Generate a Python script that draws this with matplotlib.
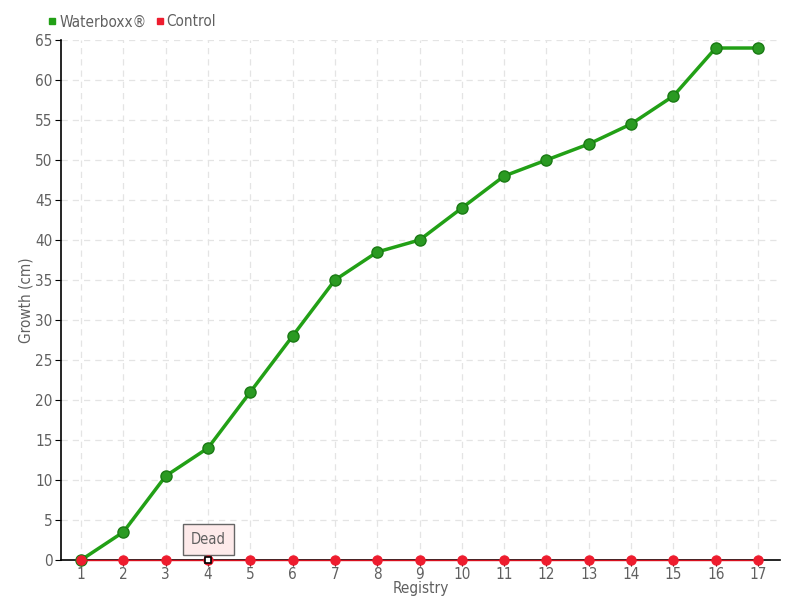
import matplotlib
matplotlib.use("Agg")
import matplotlib.pyplot as plt

registry = list(range(1, 18))
waterboxx = [0, 3.5, 10.5, 14, 21, 28, 35, 38.5, 40, 44, 48, 50, 52, 54.5, 58, 64, 64]
control = [0] * 17
dead_at = 4

plt.rcParams['font.family'] = ['DejaVu Sans']
plt.rcParams['font.stretch'] = 'condensed'
text_col = '#606060'

fig = plt.figure(figsize=(8, 6), dpi=100)
ax = fig.add_axes([0.076, 0.0667, 0.899, 0.8666])

ax.plot(registry, waterboxx, color='#22a016', lw=2.5, marker='o', ms=8,
        mfc='#2a9a22', mec='#1a7a14', mew=1, zorder=3, clip_on=False, label='Waterboxx®')
ax.plot(registry, control, color='#d8101f', lw=1.0, marker='o', ms=6.5,
        mfc='#ee1c2e', mec='#ee1c2e', zorder=4, clip_on=False, label='Control')
ax.plot([dead_at], [0], marker='s', ms=4, mfc='white', mec='black', mew=1.2,
        zorder=5, clip_on=False)

ax.annotate('Dead', xy=(dead_at, 0.6), xytext=(dead_at, 2.6), ha='center', va='center',
            fontsize=10.5, color=text_col,
            bbox=dict(boxstyle='square,pad=0.55', fc='#fdeaea', ec='#666666', lw=1),
            arrowprops=dict(arrowstyle='-', color='#666666', lw=0))

ax.set_xlim(0.52, 17.52)
ax.set_ylim(0, 65)
ax.set_xticks(registry)
ax.set_yticks(range(0, 66, 5))
ax.grid(True, color='#e4e4e4', ls=(0, (5, 4)), lw=0.9)
ax.set_axisbelow(True)
for s in ['top', 'right']:
    ax.spines[s].set_visible(False)
ax.spines['left'].set_linewidth(1.2)
ax.spines['bottom'].set_linewidth(1.2)
ax.tick_params(labelcolor=text_col, labelsize=11, length=4, color='black')
ax.tick_params(axis='x', pad=1)
ax.tick_params(axis='y', pad=2)
ax.set_xlabel('Registry', color=text_col, fontsize=11, labelpad=-1)
ax.set_ylabel('Growth (cm)', color=text_col, fontsize=11, labelpad=1)

leg = ax.legend(loc='center left', bbox_to_anchor=(-0.017, 1.035), ncol=2, frameon=False,
                fontsize=11, handlelength=0.5, handletextpad=0.2, borderpad=0,
                borderaxespad=0, columnspacing=0.6, labelcolor=text_col)
for h, c in zip(leg.legend_handles, ['#22a016', '#ee1c2e']):
    h.set_linestyle('')
    h.set_marker('s')
    h.set_markersize(5)
    h.set_markerfacecolor(c)
    h.set_markeredgecolor(c)

fig.savefig('out.png', dpi=100)
